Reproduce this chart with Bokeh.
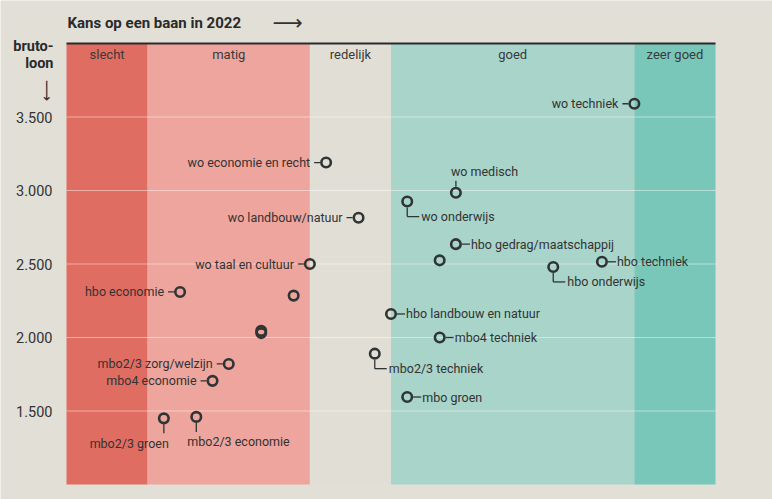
import math
from bokeh.plotting import figure
from bokeh.models import Range1d, ColumnDataSource
from bokeh.core.properties import value
from bokeh.embed import file_html
from bokeh.resources import INLINE

# ---------------- data ----------------
band_names = ["slecht", "matig", "redelijk", "goed", "zeer goed"]
band_edges = [0, 1, 3, 4, 7, 8]
band_colors = ["#e06d61", "#eea59d", "#e1dfd5", "#a8d4ca", "#79c7b9"]

names = ["wo techniek", "wo economie en recht", "wo medisch", "wo onderwijs",
         "wo landbouw/natuur", "hbo gedrag/maatschappij", "", "wo taal en cultuur",
         "hbo onderwijs", "hbo techniek", "hbo economie", "", "hbo landbouw en natuur",
         "", "", "mbo4 techniek", "mbo2/3 techniek", "mbo2/3 zorg/welzijn",
         "mbo4 economie", "mbo groen", "mbo2/3 groen", "mbo2/3 economie"]
kans = [7.0, 3.2, 4.8, 4.2, 3.6, 4.8, 4.6, 3.0, 6.0, 6.6, 1.4, 2.8, 4.0,
        2.4, 2.4, 4.6, 3.8, 2.0, 1.8, 4.2, 1.2, 1.6]
loon = [3590, 3190, 2985, 2925, 2815, 2635, 2525, 2500, 2480, 2515, 2310, 2285, 2160,
        2045, 2030, 2000, 1890, 1820, 1705, 1595, 1450, 1460]
label_pos = ["left", "left", "above", "elbow", "left", "right", "none", "left",
             "elbow", "right", "left", "none", "right", "none", "none", "right",
             "elbow", "left", "left", "right", "below_r", "below_l"]

y_ticks = [1500, 2000, 2500, 3000, 3500]
y_tick_labels = ["1.500", "2.000", "2.500", "3.000", "3.500"]
x_title = "Kans op een baan in 2022"
y_title = ["bruto-", "loon"]

# ---------------- layout ----------------
BG = "#e1dfd6"
DARK = "#2f3434"
TXT = "#333333"
FONT = value("Roboto")

W, H = 772, 499
ML, MR, MT, MB = 66, 57, 43, 15          # space around the band area
FW, FH = W - ML - MR, H - MT - MB
x0, x1 = band_edges[0], band_edges[-1]
y0, y1 = 1000, 4000
sx = FW / (x1 - x0)
sy = FH / (y1 - y0)

p = figure(width=W, height=H, output_backend="svg", toolbar_location=None,
           x_axis_type=None, y_axis_type=None,
           x_range=Range1d(x0 - ML / sx, x1 + MR / sx),
           y_range=Range1d(y0 - MB / sy, y1 + MT / sy))
p.min_border = 0
p.background_fill_color = BG
p.border_fill_color = BG
p.outline_line_color = None
p.grid.visible = False

# bands
p.quad(left=band_edges[:-1], right=band_edges[1:], bottom=y0, top=y1,
       fill_color=band_colors, line_color=None)
mids = [(a + b) / 2 for a, b in zip(band_edges[:-1], band_edges[1:])]
p.text(x=mids, y=[y1] * len(mids), text=band_names, text_font=FONT,
       text_font_size="13px", text_color="#3a3a3a", text_align="center",
       text_baseline="middle", y_offset=11)

# grid lines
n = len(y_ticks)
p.segment(x0=[x0] * n, y0=y_ticks, x1=[x1] * n, y1=y_ticks,
          line_color="white", line_alpha=0.45, line_width=1)
# tick labels
p.text(x=[x0] * n, y=y_ticks, text=y_tick_labels, x_offset=-14,
       text_font=FONT, text_font_size="14.5px", text_color=TXT,
       text_align="right", text_baseline="middle")

# top line
p.segment(x0=[x0], y0=[y1], x1=[x1], y1=[y1], line_color="#2a2a2a", line_width=2)

# connectors and labels
sx0, sy0, sx1, sy1 = [], [], [], []
groups = {}
def add_text(key, x, y, t, xo, yo):
    g = groups.setdefault(key, dict(x=[], y=[], text=[], xo=[], yo=[]))
    g["x"].append(x); g["y"].append(y); g["text"].append(t)
    g["xo"].append(xo); g["yo"].append(yo)

for nm, cx, cy, ps in zip(names, kans, loon, label_pos):
    if ps == "left":
        sx0.append(cx - 12 / sx); sx1.append(cx - 6 / sx); sy0.append(cy); sy1.append(cy)
        add_text("right", cx, cy, nm, -16, 0)
    elif ps == "right":
        sx0.append(cx + 6 / sx); sx1.append(cx + 14 / sx); sy0.append(cy); sy1.append(cy)
        add_text("left", cx, cy, nm, 15, 0)
    elif ps == "elbow":
        sx0.append(cx); sx1.append(cx); sy0.append(cy - 6 / sy); sy1.append(cy - 15 / sy)
        sx0.append(cx); sx1.append(cx + 12 / sx); sy0.append(cy - 15 / sy); sy1.append(cy - 15 / sy)
        add_text("left", cx, cy, nm, 14, 15)
    elif ps == "above":
        sx0.append(cx); sx1.append(cx); sy0.append(cy + 6 / sy); sy1.append(cy + 12 / sy)
        add_text("left", cx, cy, nm, -5, -21)
    elif ps == "below_r":
        sx0.append(cx); sx1.append(cx); sy0.append(cy - 6 / sy); sy1.append(cy - 15 / sy)
        add_text("right", cx, cy, nm, 5, 25)
    elif ps == "below_l":
        sx0.append(cx); sx1.append(cx); sy0.append(cy - 6 / sy); sy1.append(cy - 15 / sy)
        add_text("left", cx, cy, nm, -9, 25)

p.segment(x0=sx0, y0=sy0, x1=sx1, y1=sy1, line_color=DARK, line_width=1.3)
for align, g in groups.items():
    src = ColumnDataSource(g)
    p.text(x="x", y="y", text="text", x_offset="xo", y_offset="yo", source=src,
           text_font=FONT, text_font_size="12.5px", text_color=TXT,
           text_align=align, text_baseline="middle")

p.scatter(x=kans, y=loon, size=9.5, fill_color=None, line_color=DARK, line_width=2.6)

# titles
p.text(x=[x0], y=[y1], text=[x_title], x_offset=1, y_offset=-21,
       text_font=FONT, text_font_style="bold", text_font_size="15px",
       text_color="#2a2a2a", text_baseline="middle")
p.text(x=[x0], y=[y1], text=["\u27f6"], x_offset=206, y_offset=-21,
       text_font=value("DejaVu Sans"), text_font_size="21px",
       text_color=TXT, text_baseline="middle")
p.text(x=[x0, x0], y=[y1, y1], text=y_title, x_offset=-13, y_offset=[3, 20],
       text_font=FONT, text_font_style="bold", text_font_size="14.5px",
       text_color="#2a2a2a", text_baseline="middle", text_align="right")
p.text(x=[x0], y=[y1], text=["\u27f6"], x_offset=-20, y_offset=47,
       angle=-math.pi / 2,
       text_font=value("DejaVu Sans"), text_font_size="15px",
       text_color=TXT, text_baseline="middle", text_align="center")

open("out.html", "w").write(file_html(p, INLINE))
